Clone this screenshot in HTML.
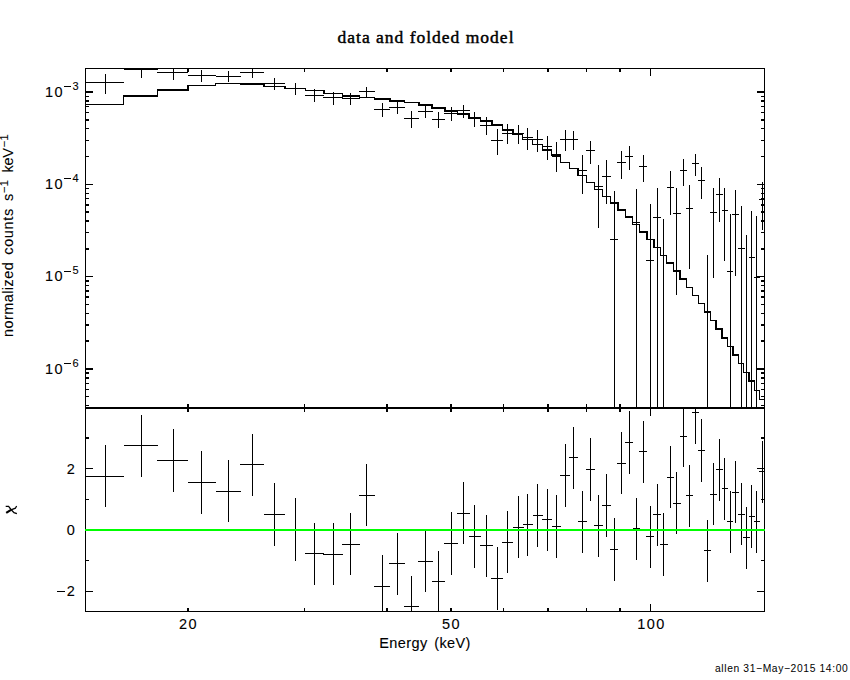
<!DOCTYPE html>
<html><head><meta charset="utf-8"><title>data and folded model</title>
<style>
html,body{margin:0;padding:0;background:#fff;}
body{-webkit-text-stroke:0.1px #000;width:850px;height:680px;position:relative;overflow:hidden;font-family:"Liberation Sans",sans-serif;color:#000;}
svg{position:absolute;left:0;top:0;}
.t{position:absolute;white-space:nowrap;line-height:1;}
.title{font-family:"Liberation Serif",serif;font-size:17.5px;left:306px;width:240px;text-align:center;top:28.6px;letter-spacing:1.0px;-webkit-text-stroke:0.45px #000;}
.xl{font-size:14.5px;left:325px;width:200px;text-align:center;top:635.6px;letter-spacing:0.4px;word-spacing:2.2px;}
.xt{font-size:14.5px;width:60px;text-align:center;top:617.4px;letter-spacing:1.5px;}
.yl{position:absolute;line-height:1;font-size:14.5px;left:0;width:64.2px;text-align:right;letter-spacing:1.5px;white-space:nowrap;}
.ys{position:absolute;line-height:1;font-size:11px;left:60px;width:18.6px;text-align:right;white-space:nowrap;}
.yb{font-size:14.5px;left:0;width:74.8px;text-align:right;}
.rot{position:absolute;left:0;top:0;transform-origin:0 0;white-space:nowrap;line-height:1;font-size:14.5px;letter-spacing:0.85px;word-spacing:2.3px;}
.rot sup{font-size:11px;vertical-align:baseline;position:relative;top:-5.5px;letter-spacing:0.3px;}
.foot{-webkit-text-stroke:0;font-size:10.3px;left:715px;top:664.4px;letter-spacing:0.62px;}
</style></head><body>
<svg width="850" height="680" viewBox="0 0 850 680" shape-rendering="crispEdges" fill="#000"><rect x="85" y="68" width="680" height="1"/><rect x="85" y="407" width="680" height="2"/><rect x="85" y="611" width="680" height="1"/><rect x="85" y="68" width="1" height="544"/><rect x="764" y="68" width="1" height="544"/><rect x="187" y="69" width="2" height="3"/><rect x="187" y="404" width="2" height="8"/><rect x="187" y="608" width="2" height="3"/><rect x="304" y="69" width="1" height="3"/><rect x="304" y="404" width="1" height="8"/><rect x="304" y="608" width="1" height="3"/><rect x="386" y="69" width="2" height="3"/><rect x="386" y="404" width="2" height="8"/><rect x="386" y="608" width="2" height="3"/><rect x="450" y="69" width="2" height="3"/><rect x="450" y="404" width="2" height="8"/><rect x="450" y="608" width="2" height="3"/><rect x="503" y="69" width="1" height="3"/><rect x="503" y="404" width="1" height="8"/><rect x="503" y="608" width="1" height="3"/><rect x="547" y="69" width="2" height="3"/><rect x="547" y="404" width="2" height="8"/><rect x="547" y="608" width="2" height="3"/><rect x="586" y="69" width="1" height="3"/><rect x="586" y="404" width="1" height="8"/><rect x="586" y="608" width="1" height="3"/><rect x="619" y="69" width="2" height="3"/><rect x="619" y="404" width="2" height="8"/><rect x="619" y="608" width="2" height="3"/><rect x="650" y="69" width="1" height="7"/><rect x="650" y="400" width="1" height="16"/><rect x="650" y="604" width="1" height="7"/><rect x="86" y="91" width="7" height="2"/><rect x="757" y="91" width="7" height="2"/><rect x="86" y="184" width="7" height="1"/><rect x="757" y="184" width="7" height="1"/><rect x="86" y="156" width="3" height="1"/><rect x="761" y="156" width="3" height="1"/><rect x="86" y="140" width="3" height="1"/><rect x="761" y="140" width="3" height="1"/><rect x="86" y="128" width="3" height="1"/><rect x="761" y="128" width="3" height="1"/><rect x="86" y="119" width="3" height="2"/><rect x="761" y="119" width="3" height="2"/><rect x="86" y="112" width="3" height="1"/><rect x="761" y="112" width="3" height="1"/><rect x="86" y="106" width="3" height="1"/><rect x="761" y="106" width="3" height="1"/><rect x="86" y="100" width="3" height="2"/><rect x="761" y="100" width="3" height="2"/><rect x="86" y="96" width="3" height="1"/><rect x="761" y="96" width="3" height="1"/><rect x="86" y="276" width="7" height="1"/><rect x="757" y="276" width="7" height="1"/><rect x="86" y="248" width="3" height="2"/><rect x="761" y="248" width="3" height="2"/><rect x="86" y="232" width="3" height="1"/><rect x="761" y="232" width="3" height="1"/><rect x="86" y="220" width="3" height="2"/><rect x="761" y="220" width="3" height="2"/><rect x="86" y="211" width="3" height="2"/><rect x="761" y="211" width="3" height="2"/><rect x="86" y="204" width="3" height="2"/><rect x="761" y="204" width="3" height="2"/><rect x="86" y="198" width="3" height="1"/><rect x="761" y="198" width="3" height="1"/><rect x="86" y="193" width="3" height="1"/><rect x="761" y="193" width="3" height="1"/><rect x="86" y="188" width="3" height="1"/><rect x="761" y="188" width="3" height="1"/><rect x="86" y="368" width="7" height="2"/><rect x="757" y="368" width="7" height="2"/><rect x="86" y="340" width="3" height="2"/><rect x="761" y="340" width="3" height="2"/><rect x="86" y="324" width="3" height="2"/><rect x="761" y="324" width="3" height="2"/><rect x="86" y="313" width="3" height="1"/><rect x="761" y="313" width="3" height="1"/><rect x="86" y="304" width="3" height="1"/><rect x="761" y="304" width="3" height="1"/><rect x="86" y="296" width="3" height="2"/><rect x="761" y="296" width="3" height="2"/><rect x="86" y="290" width="3" height="2"/><rect x="761" y="290" width="3" height="2"/><rect x="86" y="285" width="3" height="1"/><rect x="761" y="285" width="3" height="1"/><rect x="86" y="280" width="3" height="2"/><rect x="761" y="280" width="3" height="2"/><rect x="86" y="405" width="3" height="1"/><rect x="761" y="405" width="3" height="1"/><rect x="86" y="396" width="3" height="1"/><rect x="761" y="396" width="3" height="1"/><rect x="86" y="389" width="3" height="1"/><rect x="761" y="389" width="3" height="1"/><rect x="86" y="383" width="3" height="1"/><rect x="761" y="383" width="3" height="1"/><rect x="86" y="377" width="3" height="2"/><rect x="761" y="377" width="3" height="2"/><rect x="86" y="372" width="3" height="2"/><rect x="761" y="372" width="3" height="2"/><rect x="86" y="591" width="7" height="1"/><rect x="757" y="591" width="7" height="1"/><rect x="86" y="560" width="3" height="1"/><rect x="761" y="560" width="3" height="1"/><rect x="86" y="529" width="7" height="2"/><rect x="757" y="529" width="7" height="2"/><rect x="86" y="499" width="3" height="1"/><rect x="761" y="499" width="3" height="1"/><rect x="86" y="468" width="7" height="1"/><rect x="757" y="468" width="7" height="1"/><rect x="86" y="437" width="3" height="2"/><rect x="761" y="437" width="3" height="2"/><rect x="85" y="104" width="39" height="1"/><rect x="123" y="95" width="35" height="2"/><rect x="123" y="95" width="1" height="10"/><rect x="157" y="89" width="31" height="2"/><rect x="157" y="89" width="1" height="8"/><rect x="188" y="85" width="28" height="1"/><rect x="187" y="85" width="2" height="6"/><rect x="215" y="83" width="26" height="1"/><rect x="215" y="83" width="1" height="3"/><rect x="240" y="83" width="24" height="2"/><rect x="240" y="83" width="1" height="2"/><rect x="264" y="86" width="21" height="1"/><rect x="263" y="83" width="2" height="4"/><rect x="285" y="88" width="21" height="1"/><rect x="284" y="86" width="2" height="3"/><rect x="305" y="90" width="19" height="1"/><rect x="305" y="88" width="1" height="3"/><rect x="324" y="93" width="19" height="1"/><rect x="323" y="90" width="2" height="4"/><rect x="342" y="95" width="18" height="2"/><rect x="342" y="93" width="1" height="4"/><rect x="359" y="97" width="16" height="1"/><rect x="359" y="95" width="1" height="3"/><rect x="374" y="98" width="16" height="2"/><rect x="374" y="97" width="1" height="3"/><rect x="390" y="100" width="15" height="2"/><rect x="389" y="98" width="2" height="4"/><rect x="404" y="102" width="15" height="1"/><rect x="404" y="100" width="1" height="3"/><rect x="419" y="104" width="13" height="2"/><rect x="418" y="102" width="2" height="4"/><rect x="432" y="107" width="13" height="2"/><rect x="431" y="104" width="2" height="5"/><rect x="445" y="110" width="13" height="2"/><rect x="444" y="107" width="2" height="5"/><rect x="457" y="113" width="12" height="2"/><rect x="457" y="110" width="1" height="5"/><rect x="469" y="117" width="12" height="2"/><rect x="468" y="113" width="2" height="6"/><rect x="480" y="120" width="12" height="2"/><rect x="480" y="117" width="1" height="5"/><rect x="492" y="124" width="11" height="2"/><rect x="491" y="120" width="2" height="6"/><rect x="502" y="129" width="11" height="2"/><rect x="502" y="124" width="1" height="7"/><rect x="513" y="133" width="10" height="2"/><rect x="512" y="129" width="2" height="6"/><rect x="522" y="139" width="11" height="1"/><rect x="522" y="133" width="1" height="7"/><rect x="532" y="144" width="11" height="1"/><rect x="532" y="139" width="1" height="6"/><rect x="542" y="149" width="10" height="2"/><rect x="542" y="144" width="1" height="7"/><rect x="551" y="154" width="10" height="2"/><rect x="551" y="149" width="1" height="7"/><rect x="560" y="162" width="10" height="1"/><rect x="560" y="154" width="1" height="9"/><rect x="569" y="168" width="9" height="1"/><rect x="569" y="162" width="1" height="7"/><rect x="578" y="175" width="9" height="1"/><rect x="577" y="168" width="2" height="8"/><rect x="586" y="182" width="9" height="1"/><rect x="586" y="175" width="1" height="8"/><rect x="594" y="189" width="9" height="1"/><rect x="594" y="182" width="1" height="8"/><rect x="602" y="196" width="9" height="1"/><rect x="602" y="189" width="1" height="8"/><rect x="610" y="202" width="8" height="2"/><rect x="610" y="196" width="1" height="8"/><rect x="618" y="209" width="8" height="2"/><rect x="617" y="202" width="2" height="9"/><rect x="625" y="216" width="8" height="2"/><rect x="625" y="209" width="1" height="9"/><rect x="632" y="224" width="8" height="1"/><rect x="632" y="216" width="1" height="9"/><rect x="639" y="231" width="8" height="2"/><rect x="639" y="224" width="1" height="9"/><rect x="647" y="239" width="7" height="1"/><rect x="646" y="231" width="2" height="9"/><rect x="654" y="247" width="7" height="1"/><rect x="653" y="239" width="2" height="9"/><rect x="660" y="255" width="7" height="1"/><rect x="660" y="247" width="1" height="9"/><rect x="666" y="262" width="8" height="2"/><rect x="666" y="255" width="1" height="9"/><rect x="673" y="270" width="7" height="2"/><rect x="673" y="262" width="1" height="10"/><rect x="680" y="278" width="7" height="2"/><rect x="679" y="270" width="2" height="10"/><rect x="686" y="287" width="7" height="1"/><rect x="686" y="278" width="1" height="10"/><rect x="692" y="295" width="7" height="1"/><rect x="692" y="287" width="1" height="9"/><rect x="698" y="303" width="7" height="1"/><rect x="698" y="295" width="1" height="9"/><rect x="704" y="311" width="7" height="2"/><rect x="704" y="303" width="1" height="10"/><rect x="710" y="320" width="6" height="1"/><rect x="710" y="311" width="1" height="10"/><rect x="716" y="328" width="6" height="2"/><rect x="715" y="320" width="2" height="10"/><rect x="722" y="337" width="6" height="2"/><rect x="721" y="328" width="2" height="11"/><rect x="727" y="346" width="7" height="1"/><rect x="727" y="337" width="1" height="10"/><rect x="733" y="354" width="6" height="2"/><rect x="732" y="346" width="2" height="10"/><rect x="738" y="363" width="6" height="1"/><rect x="738" y="354" width="1" height="10"/><rect x="743" y="372" width="6" height="1"/><rect x="743" y="363" width="1" height="10"/><rect x="749" y="380" width="6" height="2"/><rect x="748" y="372" width="2" height="10"/><rect x="754" y="390" width="6" height="1"/><rect x="754" y="380" width="1" height="11"/><rect x="759" y="399" width="6" height="1"/><rect x="759" y="390" width="1" height="10"/><rect x="105" y="74" width="1" height="20"/><rect x="85" y="82" width="39" height="1"/><rect x="105" y="445" width="1" height="62"/><rect x="85" y="476" width="39" height="1"/><rect x="141" y="68" width="1" height="10"/><rect x="124" y="69" width="34" height="1"/><rect x="141" y="415" width="1" height="62"/><rect x="124" y="445" width="34" height="1"/><rect x="173" y="68" width="1" height="12"/><rect x="157" y="72" width="31" height="1"/><rect x="173" y="429" width="1" height="63"/><rect x="157" y="460" width="31" height="1"/><rect x="201" y="70" width="1" height="12"/><rect x="188" y="75" width="28" height="1"/><rect x="201" y="451" width="1" height="63"/><rect x="188" y="482" width="28" height="1"/><rect x="228" y="71" width="1" height="11"/><rect x="216" y="76" width="25" height="1"/><rect x="228" y="460" width="1" height="62"/><rect x="216" y="491" width="25" height="1"/><rect x="252" y="68" width="1" height="10"/><rect x="240" y="72" width="24" height="1"/><rect x="252" y="434" width="1" height="62"/><rect x="240" y="464" width="24" height="1"/><rect x="274" y="78" width="1" height="12"/><rect x="264" y="83" width="21" height="1"/><rect x="274" y="483" width="1" height="63"/><rect x="264" y="514" width="21" height="1"/><rect x="295" y="83" width="1" height="12"/><rect x="285" y="88" width="21" height="1"/><rect x="295" y="498" width="1" height="63"/><rect x="285" y="529" width="21" height="1"/><rect x="314" y="89" width="1" height="13"/><rect x="305" y="95" width="19" height="1"/><rect x="314" y="523" width="1" height="62"/><rect x="305" y="553" width="19" height="1"/><rect x="333" y="92" width="1" height="13"/><rect x="323" y="97" width="20" height="1"/><rect x="333" y="523" width="1" height="62"/><rect x="323" y="554" width="20" height="1"/><rect x="350" y="93" width="1" height="12"/><rect x="342" y="98" width="18" height="1"/><rect x="350" y="513" width="1" height="62"/><rect x="342" y="544" width="18" height="1"/><rect x="366" y="87" width="1" height="11"/><rect x="359" y="91" width="16" height="1"/><rect x="366" y="464" width="1" height="62"/><rect x="359" y="495" width="16" height="1"/><rect x="382" y="103" width="1" height="14"/><rect x="374" y="109" width="16" height="1"/><rect x="382" y="555" width="1" height="57"/><rect x="374" y="586" width="16" height="1"/><rect x="397" y="101" width="1" height="13"/><rect x="389" y="107" width="16" height="1"/><rect x="397" y="533" width="1" height="62"/><rect x="389" y="563" width="16" height="1"/><rect x="411" y="111" width="1" height="17"/><rect x="404" y="118" width="15" height="1"/><rect x="411" y="576" width="1" height="36"/><rect x="404" y="606" width="15" height="1"/><rect x="425" y="105" width="1" height="13"/><rect x="418" y="111" width="15" height="1"/><rect x="425" y="531" width="1" height="61"/><rect x="418" y="561" width="15" height="1"/><rect x="438" y="112" width="1" height="16"/><rect x="432" y="119" width="13" height="1"/><rect x="438" y="551" width="1" height="61"/><rect x="432" y="581" width="13" height="1"/><rect x="451" y="107" width="1" height="14"/><rect x="444" y="113" width="14" height="1"/><rect x="451" y="512" width="1" height="63"/><rect x="444" y="543" width="14" height="1"/><rect x="463" y="105" width="1" height="13"/><rect x="457" y="110" width="13" height="1"/><rect x="463" y="482" width="1" height="62"/><rect x="457" y="513" width="13" height="1"/><rect x="474" y="112" width="1" height="15"/><rect x="469" y="118" width="12" height="1"/><rect x="474" y="505" width="1" height="63"/><rect x="469" y="536" width="12" height="1"/><rect x="486" y="117" width="1" height="18"/><rect x="480" y="125" width="13" height="1"/><rect x="486" y="515" width="1" height="62"/><rect x="480" y="545" width="13" height="1"/><rect x="497" y="129" width="1" height="26"/><rect x="491" y="140" width="12" height="1"/><rect x="497" y="547" width="1" height="63"/><rect x="491" y="578" width="12" height="1"/><rect x="507" y="124" width="1" height="20"/><rect x="502" y="133" width="11" height="1"/><rect x="507" y="511" width="1" height="62"/><rect x="502" y="542" width="11" height="1"/><rect x="518" y="125" width="1" height="19"/><rect x="513" y="133" width="11" height="1"/><rect x="518" y="496" width="1" height="62"/><rect x="513" y="527" width="11" height="1"/><rect x="527" y="128" width="1" height="22"/><rect x="523" y="137" width="10" height="1"/><rect x="527" y="494" width="1" height="62"/><rect x="523" y="524" width="10" height="1"/><rect x="537" y="130" width="1" height="22"/><rect x="533" y="139" width="10" height="1"/><rect x="537" y="484" width="1" height="63"/><rect x="533" y="515" width="10" height="1"/><rect x="547" y="136" width="1" height="24"/><rect x="542" y="146" width="10" height="1"/><rect x="547" y="489" width="1" height="62"/><rect x="542" y="519" width="10" height="1"/><rect x="556" y="142" width="1" height="30"/><rect x="552" y="156" width="9" height="1"/><rect x="556" y="495" width="1" height="63"/><rect x="552" y="526" width="9" height="1"/><rect x="565" y="130" width="1" height="21"/><rect x="560" y="139" width="10" height="1"/><rect x="565" y="444" width="1" height="63"/><rect x="560" y="475" width="10" height="1"/><rect x="573" y="131" width="1" height="19"/><rect x="569" y="139" width="9" height="1"/><rect x="573" y="427" width="1" height="62"/><rect x="569" y="457" width="9" height="1"/><rect x="582" y="155" width="1" height="39"/><rect x="578" y="170" width="9" height="1"/><rect x="582" y="491" width="1" height="62"/><rect x="578" y="521" width="9" height="1"/><rect x="590" y="141" width="1" height="23"/><rect x="586" y="150" width="9" height="1"/><rect x="590" y="438" width="1" height="63"/><rect x="586" y="469" width="9" height="1"/><rect x="598" y="165" width="1" height="63"/><rect x="594" y="186" width="9" height="1"/><rect x="598" y="495" width="1" height="62"/><rect x="594" y="525" width="9" height="1"/><rect x="606" y="160" width="1" height="44"/><rect x="602" y="176" width="9" height="1"/><rect x="606" y="474" width="1" height="63"/><rect x="602" y="505" width="9" height="1"/><rect x="614" y="191" width="1" height="216"/><rect x="610" y="239" width="8" height="1"/><rect x="614" y="518" width="1" height="63"/><rect x="610" y="549" width="8" height="1"/><rect x="621" y="151" width="1" height="28"/><rect x="617" y="162" width="9" height="1"/><rect x="621" y="432" width="1" height="62"/><rect x="617" y="463" width="9" height="1"/><rect x="629" y="146" width="1" height="24"/><rect x="625" y="156" width="8" height="1"/><rect x="629" y="411" width="1" height="63"/><rect x="625" y="442" width="8" height="1"/><rect x="636" y="189" width="1" height="218"/><rect x="633" y="222" width="7" height="1"/><rect x="636" y="498" width="1" height="62"/><rect x="633" y="528" width="7" height="1"/><rect x="643" y="155" width="1" height="27"/><rect x="639" y="166" width="8" height="1"/><rect x="643" y="421" width="1" height="62"/><rect x="639" y="451" width="8" height="1"/><rect x="650" y="204" width="1" height="203"/><rect x="646" y="260" width="8" height="1"/><rect x="650" y="506" width="1" height="62"/><rect x="646" y="536" width="8" height="1"/><rect x="657" y="188" width="1" height="219"/><rect x="653" y="217" width="8" height="1"/><rect x="657" y="484" width="1" height="62"/><rect x="653" y="514" width="8" height="1"/><rect x="663" y="219" width="1" height="188"/><rect x="663" y="513" width="1" height="63"/><rect x="660" y="544" width="8" height="1"/><rect x="670" y="171" width="1" height="44"/><rect x="667" y="187" width="7" height="1"/><rect x="670" y="446" width="1" height="62"/><rect x="667" y="477" width="7" height="1"/><rect x="676" y="188" width="1" height="107"/><rect x="673" y="213" width="8" height="1"/><rect x="676" y="472" width="1" height="62"/><rect x="673" y="503" width="8" height="1"/><rect x="683" y="159" width="1" height="27"/><rect x="680" y="170" width="7" height="1"/><rect x="683" y="409" width="1" height="58"/><rect x="680" y="436" width="7" height="1"/><rect x="689" y="185" width="1" height="84"/><rect x="686" y="208" width="7" height="1"/><rect x="689" y="465" width="1" height="62"/><rect x="686" y="495" width="7" height="1"/><rect x="695" y="154" width="1" height="22"/><rect x="692" y="163" width="7" height="1"/><rect x="695" y="409" width="1" height="35"/><rect x="692" y="412" width="7" height="1"/><rect x="701" y="167" width="1" height="32"/><rect x="698" y="180" width="7" height="1"/><rect x="701" y="419" width="1" height="63"/><rect x="698" y="450" width="7" height="1"/><rect x="707" y="255" width="1" height="152"/><rect x="707" y="520" width="1" height="62"/><rect x="704" y="550" width="7" height="1"/><rect x="713" y="188" width="1" height="90"/><rect x="710" y="212" width="7" height="1"/><rect x="713" y="463" width="1" height="62"/><rect x="710" y="494" width="7" height="1"/><rect x="719" y="178" width="1" height="44"/><rect x="716" y="194" width="7" height="1"/><rect x="719" y="439" width="1" height="62"/><rect x="716" y="469" width="7" height="1"/><rect x="724" y="188" width="1" height="73"/><rect x="722" y="210" width="6" height="1"/><rect x="724" y="458" width="1" height="62"/><rect x="722" y="488" width="6" height="1"/><rect x="730" y="214" width="1" height="193"/><rect x="727" y="271" width="6" height="1"/><rect x="730" y="491" width="1" height="62"/><rect x="727" y="521" width="6" height="1"/><rect x="735" y="190" width="1" height="86"/><rect x="732" y="214" width="7" height="1"/><rect x="735" y="461" width="1" height="62"/><rect x="732" y="492" width="7" height="1"/><rect x="741" y="206" width="1" height="201"/><rect x="738" y="248" width="7" height="1"/><rect x="741" y="483" width="1" height="62"/><rect x="738" y="514" width="7" height="1"/><rect x="746" y="235" width="1" height="172"/><rect x="746" y="507" width="1" height="62"/><rect x="743" y="537" width="7" height="1"/><rect x="751" y="211" width="1" height="196"/><rect x="749" y="257" width="6" height="1"/><rect x="751" y="485" width="1" height="63"/><rect x="749" y="516" width="6" height="1"/><rect x="756" y="216" width="1" height="191"/><rect x="754" y="277" width="6" height="1"/><rect x="756" y="491" width="1" height="62"/><rect x="754" y="521" width="6" height="1"/><rect x="762" y="182" width="1" height="48"/><rect x="759" y="199" width="5" height="1"/><rect x="762" y="441" width="1" height="62"/><rect x="759" y="471" width="5" height="1"/><rect x="85" y="529" width="680" height="2" fill="#00ff00"/><rect x="63.8" y="86" width="7.1" height="1"/><rect x="63.8" y="178" width="7.1" height="1"/><rect x="63.8" y="271" width="7.1" height="1"/><rect x="63.8" y="363" width="7.1" height="1"/><rect x="57" y="591" width="8" height="1"/><path d="M5.7,506.4 L8.6,506.4 L11,509.5 L14,512.6 L16.9,513.6" fill="none" stroke="#000" stroke-width="1.25" shape-rendering="auto"/><path d="M6.2,512.9 L11,509.9" fill="none" stroke="#000" stroke-width="2.2" shape-rendering="auto"/><path d="M11,509.9 L15.4,508.2 L16.6,506" fill="none" stroke="#000" stroke-width="1.25" shape-rendering="auto"/></svg>
<div class="t title">data and folded model</div>
<div class="t xl">Energy (keV)</div>
<div class="t xt" style="left:158.6px">20</div>
<div class="t xt" style="left:421.6px">50</div>
<div class="t xt" style="left:621.6px">100</div>
<div class="yl" style="top:84.73px">10</div><div class="ys" style="top:80.69px">3</div><div class="yl" style="top:177.06px">10</div><div class="ys" style="top:173.02px">4</div><div class="yl" style="top:269.39px">10</div><div class="ys" style="top:265.35px">5</div><div class="yl" style="top:361.73px">10</div><div class="ys" style="top:357.69px">6</div>
<div class="t yb" style="top:461.5px">2</div>
<div class="t yb" style="top:522.9px">0</div>
<div class="t yb" style="top:584.3px">2</div>
<div class="rot" id="ylabel" style="transform:translate(0.9px,337px) rotate(-90deg)"><span style="letter-spacing:0.42px">normalized</span> <span style="letter-spacing:0.62px">counts</span> s<sup>&minus;1</sup> <span style="letter-spacing:-0.25px">ke</span>V<sup>&minus;1</sup></div>
<div class="t foot">allen 31&minus;May&minus;2015 14:00</div>
</body></html>
